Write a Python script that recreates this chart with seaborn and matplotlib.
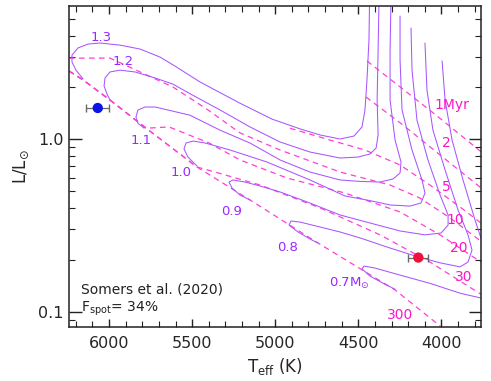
import matplotlib
matplotlib.use("Agg")
import matplotlib.pyplot as plt
import seaborn as sns
import pandas as pd

# Evolutionary tracks (Teff in K, L in Lsun)
teff_13 = [4432, 4436, 4448, 4460, 4478, 4526, 4610, 4730, 4851, 5019, 5212, 5452, 5603, 5693, 5813, 5934, 6054, 6126, 6187, 6223, 6223, 6199, 6156]
lum_13 = [6.87, 3.77, 2.21, 1.48, 1.18, 1.045, 1.004, 1.06, 1.15, 1.31, 1.62, 2.15, 2.66, 3.00, 3.34, 3.52, 3.62, 3.57, 3.39, 3.08, 2.81, 2.52, 2.24]
teff_12 = [4375, 4381, 4387, 4381, 4393, 4430, 4502, 4610, 4791, 4971, 5152, 5332, 5513, 5615, 5723, 5844, 5934, 5994, 6024, 6030, 6012, 5994]
lum_12 = [6.87, 3.30, 1.69, 1.06, 0.89, 0.822, 0.789, 0.779, 0.844, 0.965, 1.18, 1.48, 1.84, 2.09, 2.27, 2.46, 2.52, 2.46, 2.27, 2.04, 1.83, 1.69]
teff_11 = [4303, 4309, 4309, 4279, 4243, 4249, 4291, 4369, 4490, 4610, 4791, 4971, 5152, 5332, 5513, 5633, 5723, 5783, 5826, 5838, 5826, 5789]
lum_11 = [6.87, 3.30, 1.69, 0.99, 0.738, 0.638, 0.589, 0.565, 0.570, 0.581, 0.646, 0.759, 0.952, 1.13, 1.38, 1.47, 1.54, 1.54, 1.48, 1.35, 1.24, 1.16]
teff_10 = [4249, 4249, 4237, 4177, 4117, 4099, 4123, 4189, 4309, 4430, 4580, 4791, 5049, 5272, 5422, 5494, 5537, 5549, 5525, 5471]
lum_10 = [5.19, 2.88, 1.48, 0.867, 0.581, 0.488, 0.427, 0.410, 0.416, 0.441, 0.469, 0.581, 0.738, 0.867, 0.952, 0.977, 0.952, 0.878, 0.789, 0.700]
teff_09 = [4183, 4177, 4147, 4081, 4008, 3960, 3960, 4002, 4099, 4249, 4430, 4610, 4791, 4971, 5091, 5182, 5254, 5278, 5260, 5212, 5152]
lum_09 = [4.42, 2.52, 1.29, 0.759, 0.475, 0.364, 0.318, 0.286, 0.279, 0.294, 0.327, 0.364, 0.427, 0.495, 0.536, 0.565, 0.581, 0.565, 0.522, 0.475, 0.445]
teff_08 = [4099, 4087, 4051, 3978, 3900, 3840, 3816, 3840, 3888, 4008, 4141, 4309, 4490, 4610, 4730, 4851, 4905, 4917, 4863, 4791, 4742]
lum_08 = [3.62, 1.93, 1.13, 0.664, 0.389, 0.279, 0.228, 0.194, 0.182, 0.192, 0.208, 0.234, 0.268, 0.290, 0.310, 0.331, 0.336, 0.318, 0.290, 0.264, 0.250]
teff_07 = [3996, 3978, 3936, 3870, 3798, 3738, 3696, 3708, 3762, 3888, 4069, 4249, 4399, 4466, 4478, 4430, 4339, 4279]
lum_07 = [2.85, 1.69, 0.99, 0.581, 0.340, 0.228, 0.163, 0.130, 0.120, 0.128, 0.146, 0.163, 0.179, 0.184, 0.177, 0.161, 0.144, 0.135]

# Isochrones (dashed)
teff_1myr = [4448, 4026, 3708]
lum_1myr = [2.85, 1.366, 0.769]
teff_2myr = [4454, 4231, 4008, 3708]
lum_2myr = [1.76, 1.21, 0.811, 0.475]
teff_5myr = [4911, 4670, 4460, 4249, 4069, 3888, 3708]
lum_5myr = [1.16, 0.99, 0.867, 0.710, 0.543, 0.405, 0.298]
teff_10myr = [6241, 5994, 5813, 5615, 5404, 5212, 4971, 4610, 4309, 4129, 3948, 3708]
lum_10myr = [2.96, 2.96, 2.46, 2.01, 1.48, 1.09, 0.867, 0.646, 0.543, 0.456, 0.350, 0.234]
teff_20myr = [6241, 6156, 5994, 5777, 5639, 5398, 5212, 4929, 4580, 4249, 4008, 3708]
lum_20myr = [2.49, 2.21, 1.69, 1.16, 1.18, 0.952, 0.759, 0.596, 0.488, 0.379, 0.279, 0.179]
teff_30myr = [6241, 6156, 5994, 5777, 5471, 5362, 5091, 4730, 4369, 4069, 3708]
lum_30myr = [2.49, 2.21, 1.69, 1.16, 0.691, 0.646, 0.543, 0.400, 0.279, 0.194, 0.117]
teff_300myr = [6241, 6156, 5994, 5777, 5471, 5152, 4742, 4279, 4008, 3888]
lum_300myr = [2.49, 2.21, 1.69, 1.16, 0.691, 0.445, 0.25, 0.1337, 0.0826, 0.0667]

track_names = ["1.3", "1.2", "1.1", "1.0", "0.9", "0.8", "0.7M$_{\\odot}$"]
track_label_teff = [6048, 5916, 5807, 5567, 5260, 4923, 4553]
track_label_lum = [3.92, 2.81, 0.99, 0.638, 0.379, 0.237, 0.145]

iso_names = ["1Myr", "2", "5", "10", "20", "30", "300"]
iso_label_teff = [3936, 3968, 3968, 3918, 3898, 3868, 4249]
iso_label_lum = [1.58, 0.952, 0.531, 0.340, 0.233, 0.1596, 0.0957]

# Observed stars
star_teff = [6068, 4139]
star_lum = [1.52, 0.206]
star_teff_err = [70, 60]
star_lum_err = [0.02, 0.005]
star_colors = ["#0a14e6", "#f0103c"]

TRACK_COLOR = "#a855ff"
ISO_COLOR = "#ff3fd2"


def to_long(parts):
    frames = []
    for name, t, l in parts:
        frames.append(pd.DataFrame({"teff": t, "lum": l, "name": name, "order": range(len(t))}))
    return pd.concat(frames, ignore_index=True)


tracks = to_long([
    ("1.3", teff_13, lum_13), ("1.2", teff_12, lum_12), ("1.1", teff_11, lum_11),
    ("1.0", teff_10, lum_10), ("0.9", teff_09, lum_09), ("0.8", teff_08, lum_08),
    ("0.7", teff_07, lum_07),
])
isos = to_long([
    ("1", teff_1myr, lum_1myr), ("2", teff_2myr, lum_2myr), ("5", teff_5myr, lum_5myr),
    ("10", teff_10myr, lum_10myr), ("20", teff_20myr, lum_20myr),
    ("30", teff_30myr, lum_30myr), ("300", teff_300myr, lum_300myr),
])

sns.set_theme(style="ticks")
plt.rcParams["font.family"] = ["DejaVu Sans"]

fig = plt.figure(figsize=(4.91, 3.81), dpi=100)
ax = fig.add_axes([0.1405, 0.1425, 0.8391, 0.8415])

sns.lineplot(data=isos, x="teff", y="lum", units="name", estimator=None, sort=False,
             color=ISO_COLOR, linewidth=0.9, linestyle=(0, (4.5, 3.5)), ax=ax)
sns.lineplot(data=tracks, x="teff", y="lum", units="name", estimator=None, sort=False,
             color=TRACK_COLOR, linewidth=0.75, ax=ax)

for t, l, te, le, c in zip(star_teff, star_lum, star_teff_err, star_lum_err, star_colors):
    ax.errorbar(t, l, xerr=te, yerr=le, fmt="none", ecolor="#6a6a6a", elinewidth=0.9, capsize=3, zorder=4)
sns.scatterplot(x=star_teff, y=star_lum, hue=star_colors, palette=star_colors, s=55,
                edgecolor="none", legend=False, zorder=5, ax=ax)

for name, t, l in zip(track_names, track_label_teff, track_label_lum):
    ax.text(t, l, name, color="#9a28ff", fontsize=9.5, ha="center", va="center")
for name, t, l in zip(iso_names, iso_label_teff, iso_label_lum):
    ax.text(t, l, name, color="#ff14c8", fontsize=10, ha="center", va="center")

ax.text(0.029, 0.115, "Somers et al. (2020)", transform=ax.transAxes, fontsize=10, color="#222222", va="center")
ax.text(0.029, 0.055, "F$_{\\rm spot}$= 34%", transform=ax.transAxes, fontsize=10, color="#222222", va="center")

ax.set_yscale("log")
ax.set_xlim(6241, 3762)
ax.set_ylim(0.0818, 5.93)
ax.set_xticks([6000, 5500, 5000, 4500, 4000])
ax.xaxis.set_minor_locator(matplotlib.ticker.MultipleLocator(100))
ax.yaxis.set_major_locator(matplotlib.ticker.FixedLocator([0.1, 1.0]))
ax.yaxis.set_major_formatter(matplotlib.ticker.FixedFormatter(["0.1", "1.0"]))
ax.yaxis.set_minor_locator(matplotlib.ticker.LogLocator(base=10, subs=range(2, 10)))
ax.yaxis.set_minor_formatter(matplotlib.ticker.NullFormatter())

ax.tick_params(which="both", direction="in", top=True, right=True, color="#222222")
ax.tick_params(axis="x", which="major", length=6, width=1, labelsize=11.5, pad=7)
ax.tick_params(axis="y", which="major", length=9, width=1, labelsize=11.5, pad=4)
ax.tick_params(which="minor", length=4, width=0.8)
for s in ax.spines.values():
    s.set_color("#222222")
    s.set_linewidth(1.1)

ax.set_xlabel("T$_{\\rm eff}$ (K)", fontsize=12, labelpad=3)
ax.set_ylabel("L/L$_{\\odot}$", fontsize=12, labelpad=5)

fig.savefig("out.png", dpi=100)
